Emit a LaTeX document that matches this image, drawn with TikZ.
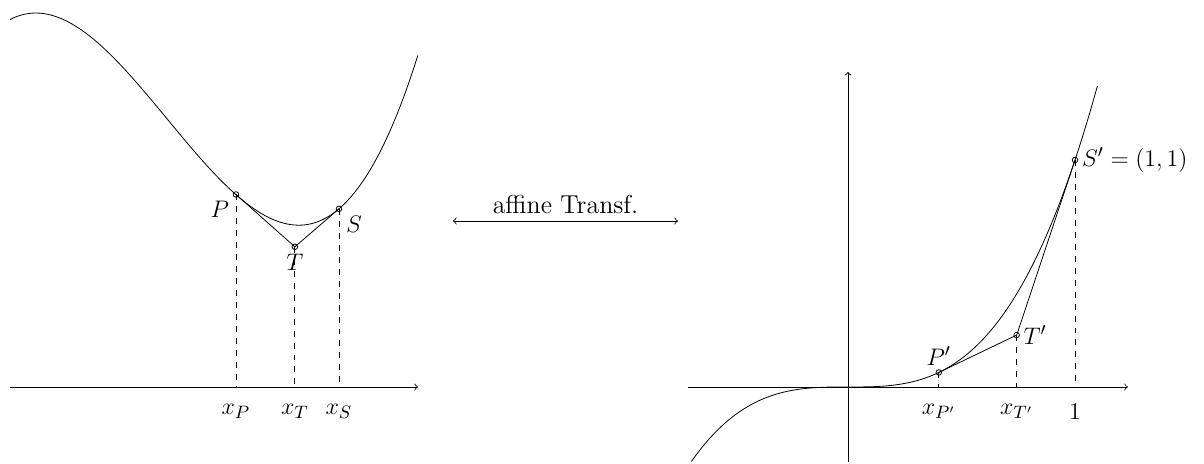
\documentclass[tikz,border=0pt]{standalone}
\begin{document}
\begin{tikzpicture}[every node/.style={font=\fontsize{13}{15}\selectfont}]
    \useasboundingbox (0,0) rectangle (21.216,8.176);

    % original curve with points P, T, S
    \begin{scope}[shift={(2.948,1.357)}, x=3.025cm]
        \coordinate (O) at (0,0);
        \draw[->] (-0.916,0) -- (1.46,0);
        \draw[domain=-0.916:1.46, samples=120, smooth] plot (\x, {4.72+2.08*(\x*\x*\x-1.76*\x)});

        \coordinate (P) at (0.4,3.392);
        \coordinate (T) at (0.743,2.470);
        \coordinate (S) at (1,3.139);
        \draw (P) -- (T) -- (S);

        \foreach \pt/\pos in {P/below left, T/below, S/below right} {
            \draw[dashed] (\pt) -- (\pt |- O);
            \draw (\pt) circle (1.4pt);
            \node[\pos] at (\pt) {$\pt$};
            \node[below=5pt] at (\pt |- O) {$x_\pt$};
        }
    \end{scope}

    % transformation arrow
    \coordinate (A1) at (7.982,4.282);
    \coordinate (A2) at (11.947,4.282);
    \draw[<->] (A1) -- node[above] {affine Transf.} (A2);

    % normalised curve y = x^3
    \begin{scope}[shift={(14.943,1.357)}, x=4cm, y=4cm]
        \coordinate (O2) at (0,0);
        \draw[->] (-0.705,0) -- (1.233,0);
        \draw[->] (0,-0.33) -- (0,1.388);
        \draw[domain=-0.69:1.1, samples=120, smooth] plot (\x, {\x*\x*\x});

        \coordinate (Pp) at (0.4,0.064);
        \coordinate (Tp) at (0.7429,0.2286);
        \coordinate (Sp) at (1,1);
        \draw (Pp) -- (Tp) -- (Sp);

        \foreach \pt/\lab/\pos/\xlab in {Pp/P'/above/x_{P'}, Tp/T'/right/x_{T'}, Sp/{S'=(1,1)}/right/1} {
            \draw[dashed] (\pt) -- (\pt |- O2);
            \draw (\pt) circle (1.4pt);
            \node[\pos] at (\pt) {$\lab$};
            \node[below=5pt] at (\pt |- O2) {$\xlab$};
        }
    \end{scope}
\end{tikzpicture}
\end{document}
